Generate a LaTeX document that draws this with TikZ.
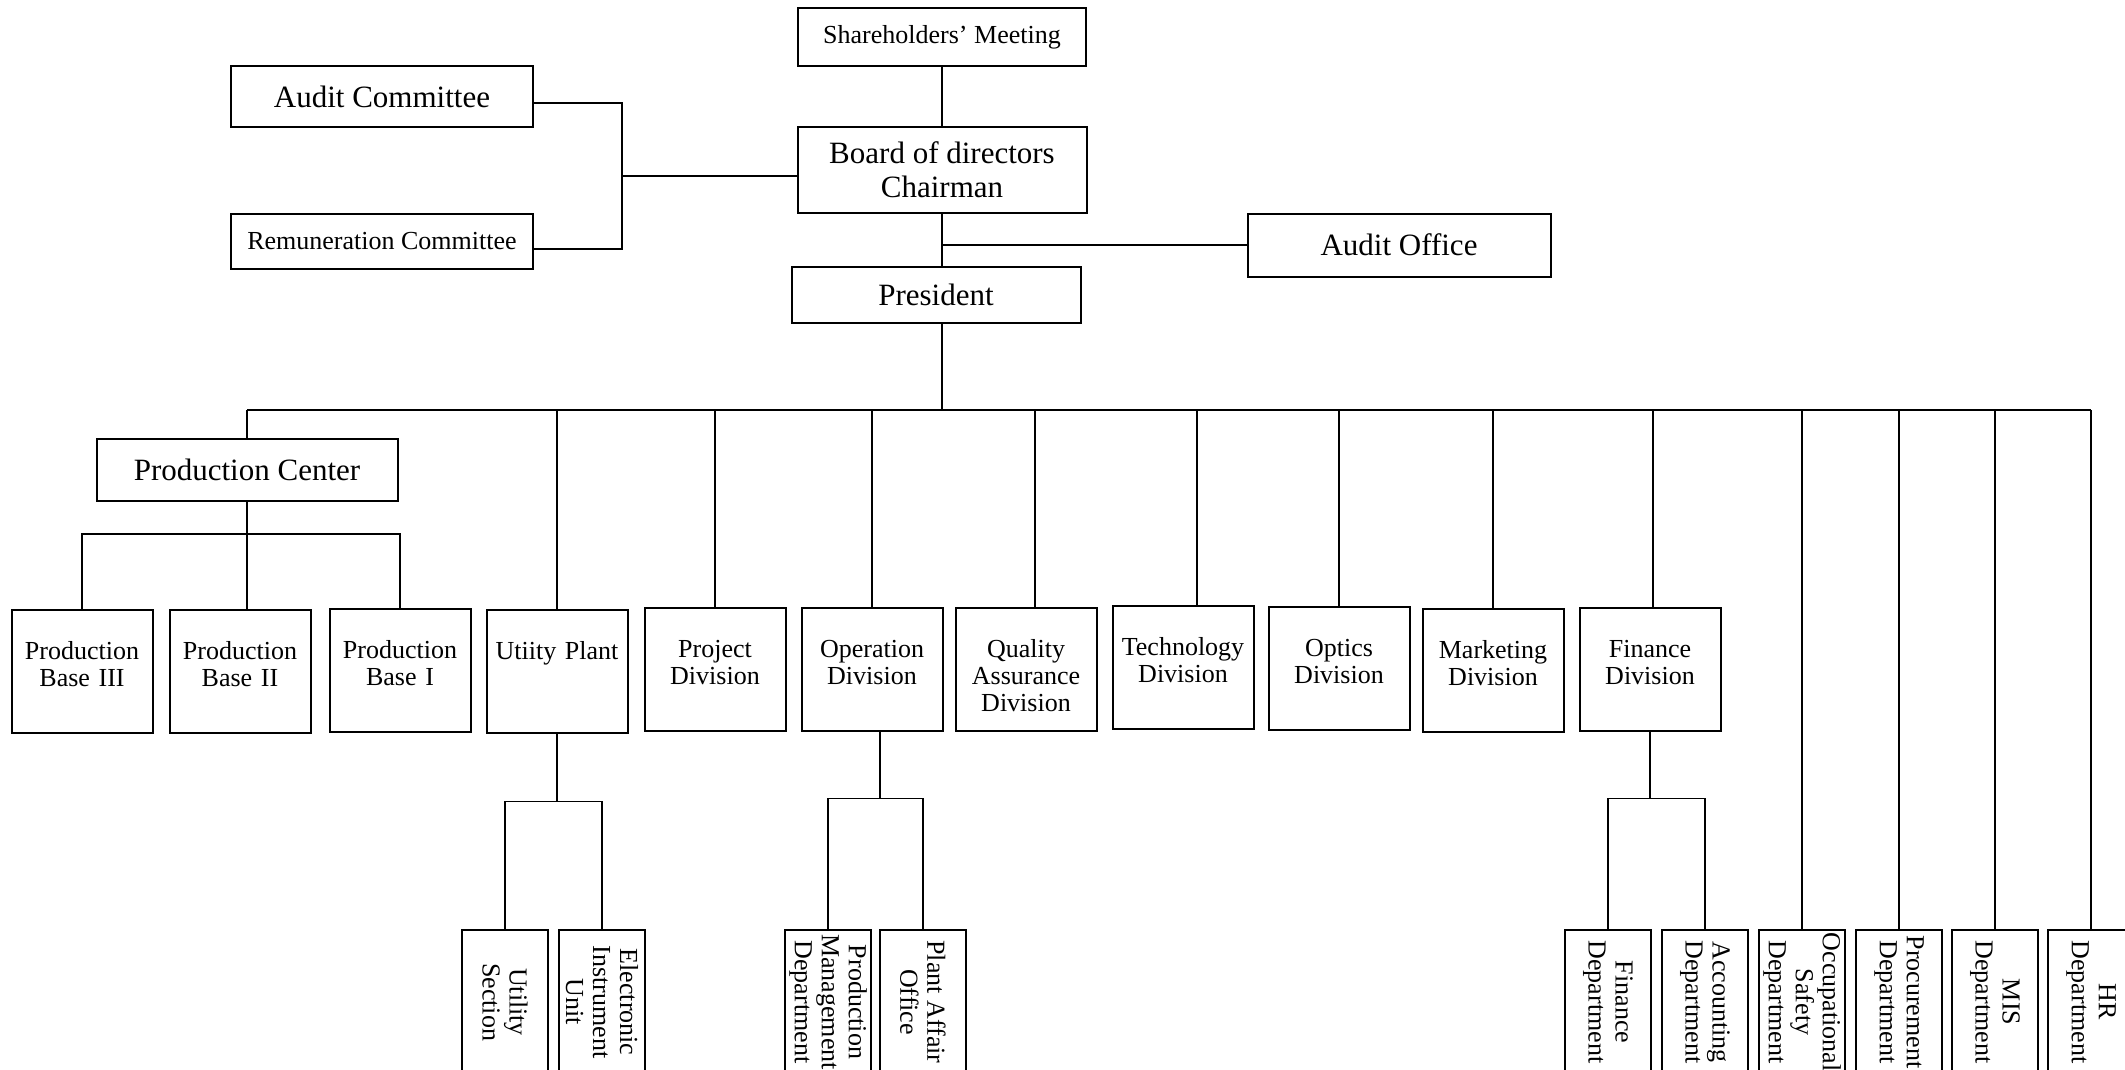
\documentclass[tikz,border=0pt]{standalone}
\usepackage{fontspec}
\setmainfont{Liberation Serif}
\usetikzlibrary{positioning}

\begin{document}
\begin{tikzpicture}[
    x=1pt, y=-1pt,
    font=\fontsize{26}{27}\selectfont
]
\tikzset{
    topbox/.style = {rectangle, draw=black, line width=2pt, align=center, inner sep=0pt},
    bigtext/.style = {font=\fontsize{31}{34}\selectfont},
    divbox/.style = {rectangle, draw=black, line width=2pt, align=center, inner sep=0pt,
        text width=141pt, text height=50pt, text depth=73pt},
    depbox/.style = {rectangle, draw=black, line width=2pt, align=center, inner sep=0pt,
        rotate=-90, minimum width=144pt, minimum height=86pt},
    link/.style = {-, line width=1.5pt}
}
\useasboundingbox (0,0) rectangle (2125,1070);
\clip (0,0) rectangle (2125,1070);
% top of the chart
\node[topbox, minimum width=288pt, minimum height=58pt] at (942,37) (share) {Shareholders’ Meeting};
\node[topbox, bigtext, minimum width=289pt, minimum height=86pt] at (942,170) (board) {Board of directors\\Chairman};
\node[topbox, bigtext, minimum width=302pt, minimum height=61pt] at (382,97) (auditc) {Audit Committee};
\node[topbox, minimum width=302pt, minimum height=55pt] at (382,241) (remun) {Remuneration Committee};
\node[topbox, bigtext, minimum width=289pt, minimum height=56pt] at (936,295) (pres) {President};
\node[topbox, bigtext, minimum width=303pt, minimum height=63pt] at (1399,245) (auditoff) {Audit Office};
\node[topbox, bigtext, minimum width=301pt, minimum height=62pt] at (247,470) (prodc) {Production Center};
% divisions
\node[divbox] at (82,671) (pbthree) {Production\\Base III};
\node[divbox] at (240,671) (pbtwo) {Production\\Base II};
\node[divbox] at (400,670) (pbone) {Production\\Base I};
\node[divbox] at (557,671) (utilp) {Utiity Plant};
\node[divbox] at (715,669) (projd) {Project\\Division};
\node[divbox] at (872,669) (operd) {Operation\\Division};
\node[divbox] at (1026,669) (qad) {Quality\\Assurance\\Division};
\node[divbox] at (1183,667) (techd) {Technology\\Division};
\node[divbox] at (1339,668) (optd) {Optics\\Division};
\node[divbox] at (1493,670) (mktd) {Marketing\\Division};
\node[divbox] at (1650,669) (find) {Finance\\Division};
% departments
\node[depbox] at (505,1002) (usec) {Utility\\Section};
\node[depbox] at (602,1002) (eiu) {Electronic\\Instrument\\Unit};
\node[depbox] at (828,1002) (pmd) {Production\\Management\\Department};
\node[depbox] at (923,1002) (pao) {Plant Affair\\Office};
\node[depbox] at (1608,1002) (fdep) {Finance\\Department};
\node[depbox] at (1705,1002) (adep) {Accounting\\Department};
\node[depbox] at (1802,1002) (osd) {Occupational\\Safety\\Department};
\node[depbox] at (1899,1002) (procd) {Procurement\\Department};
\node[depbox] at (1995,1002) (misd) {MIS\\Department};
\node[depbox] at (2091,1002) (hrd) {HR\\Department};
% connectors
\coordinate (brk) at (622,176);
\coordinate (busy) at (0,410);
\draw[link] (share) -- (board);
\draw[link] ([yshift=-6pt]auditc.east) -| (brk) |- ([yshift=-8pt]remun.east);
\draw[link] (brk) -- (brk -| board.west);
\draw[link] (board.south) -- (board.south |- pres.north);
\draw[link] (board.south |- auditoff.west) -- (auditoff.west);
\draw[link] (board.south |- pres.south) -- (board.south |- busy);
\draw[link] (prodc.north |- busy) -- (hrd.west |- busy);
\foreach \n/\dx in {prodc/0, utilp/0, projd/0, operd/0, qad/9, techd/14, optd/0, mktd/0, find/3}
    \draw[link] ([xshift=\dx pt]\n.north |- busy) -- ([xshift=\dx pt]\n.north);
\foreach \n in {osd, procd, misd, hrd}
    \draw[link] (\n.west |- busy) -- (\n.west);
\draw[link] (prodc.south) -- ++(0,32) coordinate (pcj);
\draw[link] (pbthree.north) |- (pcj) -| (pbone.north);
\draw[link] (pcj) -- (pcj |- pbtwo.north);
\draw[link] (utilp.south) -- ++(0,68) coordinate (uj);
\draw[link] (usec.west) |- (uj) -| (eiu.west);
\draw[link] ([xshift=8pt]operd.south) -- ++(0,67) coordinate (oj);
\draw[link] (pmd.west) |- (oj) -| (pao.west);
\draw[link] (find.south) -- ++(0,67) coordinate (fj);
\draw[link] (fdep.west) |- (fj) -| (adep.west);
\end{tikzpicture}
\end{document}
